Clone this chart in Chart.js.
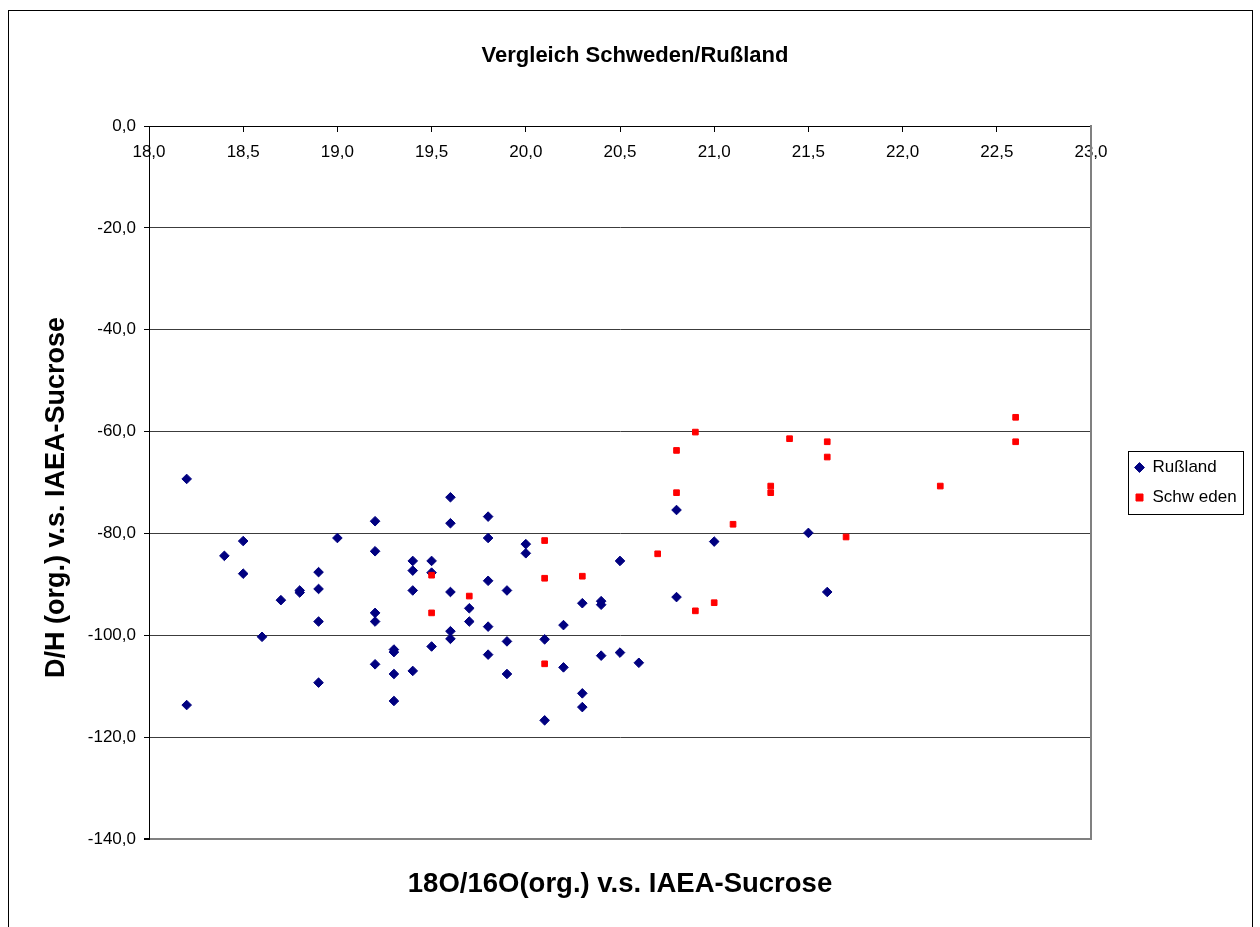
<!DOCTYPE html>
<html>
<head>
<meta charset="utf-8">
<script src="https://cdn.jsdelivr.net/npm/chart.js@4.4.0/dist/chart.umd.min.js"></script>
<style>
  html, body { margin: 0; padding: 0; background: #fff; }
  canvas { display: block; }
</style>
</head>
<body>
<canvas id="chart" width="1260" height="927"></canvas>
<script>
// Werte
const rusX = [18.2, 18.2, 18.4, 18.5, 18.5, 18.6, 18.7, 18.8, 18.8, 18.9, 18.9, 18.9, 18.9, 19.0,
  19.2, 19.2, 19.2, 19.2, 19.2, 19.3, 19.3, 19.3, 19.3, 19.4, 19.4, 19.4, 19.4, 19.5, 19.5, 19.5,
  19.6, 19.6, 19.6, 19.6, 19.6, 19.7, 19.7, 19.8, 19.8, 19.8, 19.8, 19.8, 19.9, 19.9, 19.9,
  20.0, 20.0, 20.1, 20.1, 20.2, 20.2, 20.3, 20.3, 20.3, 20.4, 20.4, 20.4, 20.5, 20.5, 20.6,
  20.8, 20.8, 21.0, 21.5, 21.6];
const rusY = [-69.3, -113.7, -84.4, -81.5, -87.9, -100.3, -93.1, -91.2, -91.6, -87.6, -90.9, -97.3, -109.3, -80.9,
  -77.6, -83.5, -95.6, -97.3, -105.7, -102.8, -103.3, -107.6, -112.9, -85.4, -87.3, -91.2, -107.0, -85.4, -87.7, -102.2,
  -72.9, -78.0, -91.5, -99.2, -100.7, -94.7, -97.3, -76.7, -80.9, -89.3, -98.3, -103.8, -91.2, -101.2, -107.6,
  -82.1, -83.9, -100.8, -116.7, -98.0, -106.3, -93.7, -111.4, -114.1, -93.3, -94.0, -104.0, -85.4, -103.4, -105.4,
  -75.4, -92.5, -81.6, -79.9, -91.5];

const schX = [19.5, 19.5, 19.7, 20.1, 20.1, 20.1, 20.3, 20.7, 20.8, 20.8, 20.9, 20.9, 21.0, 21.1,
  21.3, 21.3, 21.4, 21.6, 21.6, 21.7, 22.2, 22.6, 22.6];
const schY = [-88.2, -95.6, -92.3, -81.4, -88.8, -105.6, -88.4, -84.0, -63.7, -72.0, -60.1, -95.2, -93.6, -78.2,
  -70.7, -72.0, -61.4, -62.0, -65.0, -80.7, -70.7, -57.2, -62.0];

const seriesNames = ['Rußland', 'Schw eden'];
const xRange = [18, 23];
const yRange = [-140, 0];

const FONT = "'Liberation Sans', Arial, sans-serif";
Chart.defaults.font.family = FONT;
Chart.defaults.color = '#000';

const fmt = (v) => Number(v).toFixed(1).replace('.', ',');

// weisser Hintergrund + Rahmen um das ganze Diagramm
const frame = {
  id: 'frame',
  beforeDraw(chart) {
    const c = chart.ctx;
    c.save();
    c.fillStyle = '#fff';
    c.fillRect(0, 0, chart.width, chart.height);
    c.strokeStyle = '#000';
    c.lineWidth = 1;
    c.strokeRect(8.5, 10.5, 1244, 1000);
    c.restore();
  }
};

// Titel etwas nach rechts schieben (wie im Original)
const titleShift = {
  id: 'titleShift',
  afterLayout(chart) {
    const t = chart.titleBlock;
    if (t) { t.left += 9; t.right += 9; }
  }
};

// Rahmen um die Legende
const legendFrame = {
  id: 'legendFrame',
  afterDraw(chart) {
    const hb = chart.legend && chart.legend.legendHitBoxes;
    if (!hb || !hb.length) return;
    let l = Infinity, t = Infinity, r = -Infinity, b = -Infinity;
    hb.forEach(h => {
      l = Math.min(l, h.left); t = Math.min(t, h.top);
      r = Math.max(r, h.left + h.width); b = Math.max(b, h.top + h.height);
    });
    const c = chart.ctx;
    c.save();
    c.strokeStyle = '#000';
    c.lineWidth = 1;
    const x0 = Math.round(l - 7) + 0.5, y0 = Math.round(t - 8) + 0.5;
    const x1 = Math.round(r + 6) + 0.5, y1 = Math.round(b + 8) + 0.5;
    c.strokeRect(x0, y0, x1 - x0, y1 - y0);
    c.restore();
  }
};

const ctx = document.getElementById('chart').getContext('2d');
new Chart(ctx, {
  type: 'scatter',
  data: {
    datasets: [{
      label: seriesNames[0],
      data: rusX.map((x, i) => ({ x: x, y: rusY[i] })),
      pointStyle: 'rectRot',
      pointRadius: 4.8,
      pointHoverRadius: 4.8,
      borderWidth: 1,
      backgroundColor: '#000080',
      borderColor: '#000080',
      order: 2
    }, {
      label: seriesNames[1],
      data: schX.map((x, i) => ({ x: x, y: schY[i] })),
      pointStyle: 'rect',
      pointRadius: 4,
      pointHoverRadius: 4,
      borderWidth: 1,
      backgroundColor: '#ff0000',
      borderColor: '#ff0000',
      order: 1
    }]
  },
  options: {
    responsive: false,
    animation: false,
    devicePixelRatio: 1,
    layout: { padding: { top: 10, left: 10, right: 18, bottom: 26.5 } },
    plugins: {
      title: {
        display: true,
        text: 'Vergleich Schweden/Rußland',
        color: '#000',
        font: { size: 22, weight: 'bold', lineHeight: 1.2 },
        padding: { top: 32.8, bottom: 56.8 }
      },
      legend: {
        position: 'right',
        fullSize: false,
        maxWidth: 120,
        labels: {
          usePointStyle: true,
          boxWidth: 9,
          boxHeight: 7,
          padding: 13,
          color: '#000',
          font: { size: 17 },
          sort: (a, b) => a.datasetIndex - b.datasetIndex
        }
      },
      tooltip: { enabled: false }
    },
    scales: {
      x: {
        type: 'linear',
        position: { y: 0 },
        min: xRange[0],
        max: xRange[1],
        ticks: { stepSize: 0.5, autoSkip: false, maxRotation: 0, padding: 11, color: '#000', font: { size: 17 }, callback: fmt },
        grid: { display: true, drawOnChartArea: false, drawTicks: true, tickLength: 5, tickColor: '#000' },
        border: { display: true, color: '#000', width: 1 }
      },
      x2: {
        type: 'linear',
        position: 'bottom',
        min: xRange[0],
        max: xRange[1],
        ticks: { display: false },
        grid: { display: false, drawTicks: false },
        border: { display: false },
        title: {
          display: true,
          text: '18O/16O(org.) v.s. IAEA-Sucrose',
          color: '#000',
          font: { size: 27.5, weight: 'bold', lineHeight: 1.2 },
          padding: { top: 28.5, bottom: 0 }
        }
      },
      y: {
        type: 'linear',
        position: 'left',
        min: yRange[0],
        max: yRange[1],
        ticks: { stepSize: 20, padding: 8, color: '#000', font: { size: 17 }, callback: fmt },
        grid: {
          color: (c) => (c.tick && c.tick.value === yRange[0]) ? '#808080' : '#3c3c3c',
          lineWidth: (c) => (c.tick && c.tick.value === yRange[0]) ? 2 : 1,
          tickLength: 5,
          tickColor: '#000'
        },
        border: { display: true, color: '#000', width: 1 },
        title: {
          display: true,
          // Leerzeichen am Ende: Titel sitzt im Original etwas tiefer als die Mitte
          text: 'D/H (org.) v.s. IAEA-Sucrose    ',
          color: '#000',
          font: { size: 27, weight: 'bold', lineHeight: 1.2 },
          padding: { top: 30.8, bottom: 0 }
        },
        afterFit: (s) => { s.width = 139; }
      },
      y2: {
        type: 'linear',
        position: 'right',
        ticks: { display: false },
        grid: { display: false, drawTicks: false },
        border: { display: true, color: '#808080', width: 2 },
        afterFit: (s) => { s.width = 31; }
      }
    }
  },
  plugins: [frame, titleShift, legendFrame]
});
</script>
</body>
</html>
